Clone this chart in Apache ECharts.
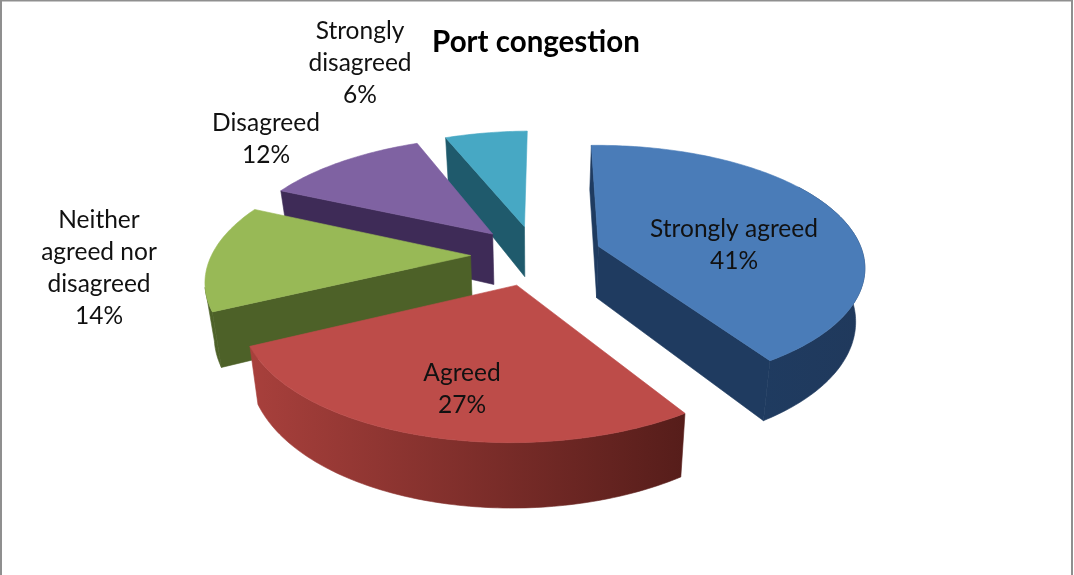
<!DOCTYPE html>
<html>
<head>
<meta charset="utf-8">
<style>html,body{margin:0;padding:0;background:#fff}#chart{width:1074px;height:575px}</style>
<script src="https://cdn.jsdelivr.net/npm/echarts@6/dist/echarts.min.js"></script>
</head>
<body>
<div id="chart"></div>
<script>
// Survey shares for the "Port congestion" question
const categories = ['Strongly agreed', 'Agreed', 'Neither agreed nor disagreed', 'Disagreed', 'Strongly disagreed'];
const shares = [41, 27, 14, 12, 6];

// Label wrapping and placement (label centre in page pixels)
const labelLines = [['Strongly agreed'], ['Agreed'], ['Neither', 'agreed nor', 'disagreed'], ['Disagreed'], ['Strongly', 'disagreed']];
const labelCentres = [[734, 245], [462, 389], [99, 268], [266, 139], [360, 63]];

// Slice colours: top face, walls, rim gradient (left to right)
const topColours = ['#4a7cb8', '#bd4c49', '#98b956', '#7f62a2', '#47a8c4'];
const wallColours = ['#1f3b60', '#7a2d2a', '#4d6128', '#3e2b57', '#1f5a6c'];
const rimColours = [['#1f3b60', '#20395c'], ['#a8403c', '#561d1a'], ['#4d6128', '#4d6128'], ['#3e2b57', '#3e2b57'], ['#1f5a6c', '#1f5a6c']];

// Projection of the tilted pie onto the page
const view = {
  cx: 536, cy: 255, radiusX: 262, radiusY: 120,
  perspX: 0.2, perspY: 0.166, shear: 8, twist: 10, roll: 6, taper: 0.028,
  explode: 0.25, depth: 52, firstAngle: 2
};

const rad = d => d * Math.PI / 180;
function project(u, v, drop) {
  const d = drop || 0;
  const wx = 1 / (1 - view.perspX * v);
  const wy = 1 / (1 - view.perspY * v);
  const x = (view.radiusX * u + view.shear * v - view.twist * u * v) * wx;
  const y = (view.radiusY * v - view.roll * u + d) * wy;
  // The lower face sits further from the eye, so it narrows toward the centre line
  return [view.cx + x * (1 - view.taper * d / view.depth), view.cy + y];
}

const total = shares.reduce((a, b) => a + b, 0);

function renderSlice(params, api) {
  const i = params.dataIndex;
  let before = 0;
  for (let k = 0; k < i; k++) before += shares[k];
  const value = api.value(0);
  const a0 = view.firstAngle + before / total * 360;
  const a1 = a0 + value / total * 360;
  const mid = rad((a0 + a1) / 2);
  const ou = view.explode * Math.sin(mid);
  const ov = -view.explode * Math.cos(mid);
  const at = (deg, drop) => project(ou + Math.sin(rad(deg)), ov - Math.cos(rad(deg)), drop);

  const arcTop = [];
  const steps = Math.max(12, Math.round(a1 - a0));
  for (let s = 0; s <= steps; s++) arcTop.push(at(a0 + (a1 - a0) * s / steps, 0));

  const apex = project(ou, ov, 0);
  const apexLow = project(ou, ov, view.depth);
  const order = apex[1];
  const children = [];

  // A flat wall is visible when it hangs on the opposite side of its top edge from the slice;
  // an edge that runs almost straight down shows no wall at all
  const midArc = at((a0 + a1) / 2, 0);
  const addWall = (deg, tag) => {
    const edge = at(deg, 0);
    const dx = edge[0] - apex[0], dy = edge[1] - apex[1];
    const sideDown = dx;
    const sideSlice = dx * (midArc[1] - apex[1]) - dy * (midArc[0] - apex[0]);
    if (Math.abs(dx) > 4 && sideDown * sideSlice < 0) {
      children.push({
        type: 'polygon', z2: order + tag,
        shape: { points: [apex, edge, at(deg, view.depth), apexLow] },
        style: { fill: wallColours[i], stroke: wallColours[i], lineWidth: 0.6 }
      });
    }
  };
  addWall(a0, 0.1);
  addWall(a1, 0.2);

  // Curved rim; the part turned away from the viewer ends up under the top face
  const lo = Math.max(a0, 60), hi = Math.min(a1, 258);
  if (hi > lo) {
    const upper = [], lower = [];
    const n = Math.round(hi - lo);
    for (let s = 0; s <= n; s++) {
      const d = lo + (hi - lo) * s / n;
      upper.push(at(d, 0));
      lower.unshift(at(d, view.depth));
    }
    const rimFill = new echarts.graphic.LinearGradient(0, 0, 1, 0, [
      { offset: 0, color: rimColours[i][0] },
      { offset: 1, color: rimColours[i][1] }
    ]);
    children.push({
      type: 'polygon', z2: order + 0.3,
      shape: { points: upper.concat(lower) },
      style: { fill: rimFill, stroke: rimFill, lineWidth: 0.6 }
    });
  }

  // Top face
  children.push({
    type: 'polygon', z2: order + 0.4,
    shape: { points: [apex].concat(arcTop) },
    style: { fill: topColours[i], stroke: topColours[i], lineWidth: 0.6 }
  });

  // Category and percentage label
  children.push({
    type: 'text', z2: 1000,
    x: labelCentres[i][0], y: labelCentres[i][1],
    style: {
      text: labelLines[i].concat([value + '%']).join('\n'),
      fill: '#111', font: '24.5px Lato, sans-serif', lineHeight: 32,
      align: 'center', verticalAlign: 'middle'
    }
  });
  return { type: 'group', children };
}

const chart = echarts.init(document.getElementById('chart'), null, { renderer: 'canvas' });
chart.setOption({
  animation: false,
  backgroundColor: '#fff',
  title: {
    text: 'Port congestion', left: 531, top: 22, textAlign: 'center',
    textStyle: { fontFamily: 'Lato, sans-serif', fontWeight: 'bold', fontSize: 29.5, color: '#000' }
  },
  graphic: [{
    type: 'rect', silent: true,
    shape: { x: 1, y: 0.5, width: 1071, height: 600 },
    style: { fill: 'transparent', stroke: '#8f8f8f', lineWidth: 2 }
  }],
  series: [{
    type: 'custom',
    coordinateSystem: 'none',
    renderItem: renderSlice,
    data: shares.map((v, i) => ({ name: categories[i], value: [v] }))
  }]
});
</script>
</body>
</html>
